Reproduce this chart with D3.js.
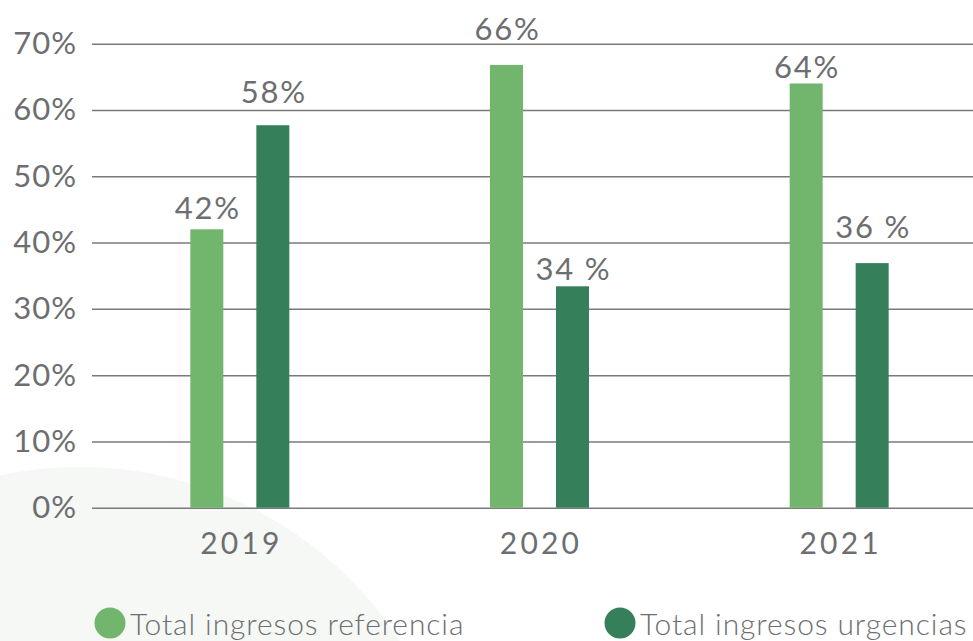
<!DOCTYPE html>
<html>
<head>
<meta charset="utf-8">
<script src="https://cdn.jsdelivr.net/npm/d3@7"></script>
<style>
  body { margin: 0; background: #fff; }
  svg { display: block; }
  text { font-family: Lato, "Open Sans", sans-serif; fill: #6d6e71; }
</style>
</head>
<body>
<svg id="chart" width="973" height="641"></svg>
<script>
const years = ['2019', '2020', '2021']
const seriesNames = ['Total ingresos referencia', 'Total ingresos urgencias']
const referencia = [42, 66.8, 64]
const urgencias = [57.7, 33.4, 36.9]
const labelsReferencia = ['42%', '66%', '64%']
const labelsUrgencias = ['58%', '34 %', '36 %']
const yTicks = [0, 10, 20, 30, 40, 50, 60, 70]

const colors = ['#72b56c', '#35805a']

// label lift above each bar (as in the original, not uniform)
const labelLift = [[10, 25, 5], [22, 6, 25]]

const svg = d3.select('#chart')
const width = +svg.attr('width')
const height = +svg.attr('height')

// soft background circle
svg.append('circle')
    .attr('cx', 80)
    .attr('cy', 848)
    .attr('r', 381)
    .attr('fill', '#f5f8f4')

const y = d3.scaleLinear()
    .domain([0, 70])
    .range([507.7, 43.7])

const x0 = d3.scaleBand()
    .domain(years)
    .range([90, 989])

const x1 = d3.scaleBand()
    .domain(seriesNames)
    .range([-49.5, 49.5])
    .paddingInner(0.5)

// grid
const yAxis = svg.append('g')
    .attr('transform', 'translate(92,0)')
    .call(d3.axisLeft(y).tickValues(yTicks).tickSize(-(width - 92)).tickPadding(15).tickFormat(d => d + '%'))
yAxis.select('.domain').remove()
yAxis.selectAll('.tick line')
    .attr('stroke', '#7a7a7a')
    .attr('stroke-width', 1.5)
yAxis.selectAll('.tick text')
    .attr('font-size', 31)
    .attr('letter-spacing', 1)
    .attr('fill', '#6d6e71')
    .style('font-family', 'Lato, sans-serif')

const rows = years.map((yr, i) => ({
    year: yr,
    values: [referencia[i], urgencias[i]],
    labels: [labelsReferencia[i], labelsUrgencias[i]]
}))

const groups = svg.selectAll('.year')
    .data(rows)
    .enter()
    .append('g')
    .attr('class', 'year')
    .attr('transform', d => `translate(${x0(d.year) + x0.bandwidth() / 2},0)`)

groups.selectAll('rect')
    .data(d => d.values.map((v, s) => ({v, s})))
    .enter()
    .append('rect')
    .attr('x', d => x1(seriesNames[d.s]))
    .attr('width', x1.bandwidth())
    .attr('y', d => y(d.v))
    .attr('height', d => y(0) - y(d.v))
    .attr('fill', d => colors[d.s])

groups.each(function (d, i) {
    d3.select(this).selectAll('.lbl')
        .data(d.values.map((v, s) => ({v, s, t: d.labels[s]})))
        .enter()
        .append('text')
        .attr('class', 'lbl')
        .attr('x', e => x1(seriesNames[e.s]) + x1.bandwidth() / 2 + 1)
        .attr('y', e => y(e.v) - labelLift[e.s][i])
        .attr('text-anchor', 'middle')
        .attr('font-size', 31)
        .attr('letter-spacing', 1.8)
        .text(e => e.t)
})

// year labels
svg.append('g')
    .selectAll('text')
    .data(years)
    .enter()
    .append('text')
    .attr('x', d => x0(d) + x0.bandwidth() / 2 + 1.5)
    .attr('y', 554)
    .attr('text-anchor', 'middle')
    .attr('font-size', 30)
    .attr('letter-spacing', 3.2)
    .text(d => d)

// legend
const legendX = [110, 620]
const legend = svg.selectAll('.legend')
    .data(seriesNames)
    .enter()
    .append('g')
    .attr('class', 'legend')
    .attr('transform', (d, i) => `translate(${legendX[i]},623)`)

legend.append('circle')
    .attr('r', 15.5)
    .attr('fill', (d, i) => colors[i])

legend.append('text')
    .attr('x', 20)
    .attr('y', 12)
    .attr('font-size', 30)
    .attr('font-weight', 300)
    .attr('letter-spacing', 0.9)
    .text(d => d)
</script>
</body>
</html>
